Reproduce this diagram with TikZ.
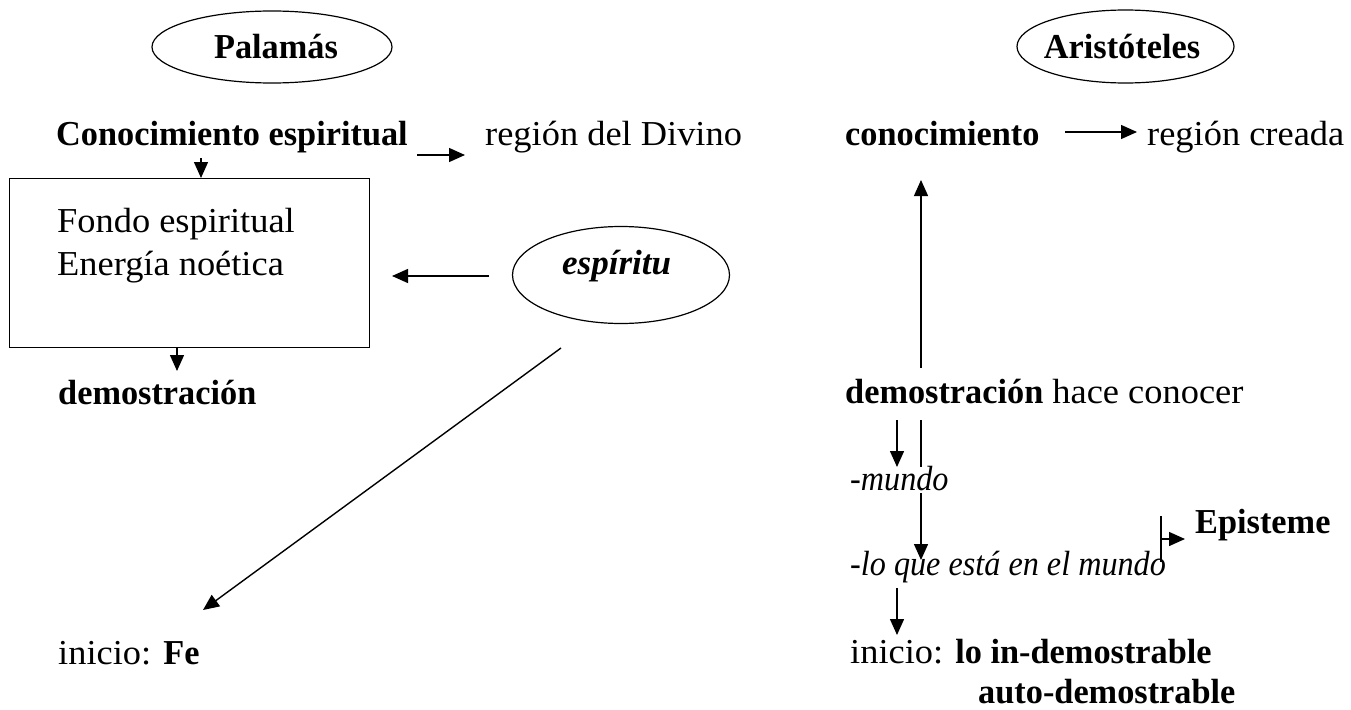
\documentclass[tikz,border=0pt]{standalone}
\usepackage{fontspec}
\setmainfont{Liberation Serif}[
  UprightFeatures={FakeStretch=1.04},
  BoldFeatures={FakeStretch=0.98},
  ItalicFeatures={FakeStretch=0.92},
  BoldItalicFeatures={FakeStretch=1.0}]
\usetikzlibrary{shapes.geometric,arrows.meta}
\begin{document}
\begin{tikzpicture}[x=1pt,y=-1pt,
  txt/.style={anchor=base west, inner sep=0pt, font=\fontsize{35}{42}\selectfont},
  ell/.style={draw, ellipse, line width=1.2pt, inner sep=0pt},
  arr/.style={line width=1.4pt, -{Triangle[length=16pt,width=14pt]}},
  ln/.style={line width=1.4pt}]
\useasboundingbox (0,0) rectangle (1351,709);

% ---------- Palamás side ----------
\node[ell, minimum width=240pt, minimum height=72pt] (pal) at (272,47) {};
\node[txt, anchor=base] (palt) at (276,59) {\textbf{Palamás}};

\node[txt] (ce) at (56,145) {\textbf{Conocimiento espiritual}};
\node[txt] (rd) at (485,145) {región del Divino};

\node[draw, line width=1.2pt, anchor=north west, minimum width=360pt, minimum height=169pt, inner sep=0pt] (box) at (9,178) {};
\node[txt] (fe1) at (57,232) {Fondo espiritual};
\node[txt] (fe2) at (57,275) {Energía noética};

\node[ell, minimum width=217pt, minimum height=97pt] (esp) at (621,275) {};
\node[txt] (espt) at (562,274) {\textbf{\textit{espíritu}}};

\node[txt] (dem) at (58,404) {\textbf{demostración}};
\node[txt] (fe) at (58,664) {inicio: \textbf{Fe}};

\coordinate (c1) at (201,158);
\draw[arr] (c1) -- (c1 |- box.north);
\coordinate (c2a) at (417,155);
\coordinate (c2b) at (465,155);
\draw[arr] (c2a) -- (c2b);
\coordinate (c3a) at (489,276);
\coordinate (c3b) at (392,276);
\draw[arr] (c3a) -- (c3b);
\coordinate (c4) at (177,371);
\draw[arr] (c4 |- box.south) -- (c4);
\coordinate (c5a) at (561,348);
\coordinate (c5b) at (203,610);
\draw[arr] (c5a) -- (c5b);

% ---------- Aristóteles side ----------
\node[ell, minimum width=217pt, minimum height=73pt] (ari) at (1125.5,46.5) {};
\node[txt, anchor=base] (arit) at (1122,59) {\textbf{Aristóteles}};

\node[txt] (con) at (845,145) {\textbf{conocimiento}};
\node[txt] (rc) at (1147,145) {región creada};
\coordinate (d1a) at (1065,132);
\coordinate (d1b) at (1137,132);
\draw[arr] (d1a) -- (d1b);

\node[txt] (dhc) at (845,403) {\textbf{demostración} hace conocer};
\coordinate (d2a) at (921,368);
\coordinate (d2b) at (921,180);
\draw[arr] (d2a) -- (d2b);

\coordinate (d3a) at (897,420);
\coordinate (d3b) at (897,467);
\draw[arr] (d3a) -- (d3b);
\coordinate (d4a) at (921,420);
\coordinate (d4b) at (921,467);
\draw[ln] (d4a) -- (d4b);

\node[txt] (mun) at (850,490) {\textit{-mundo}};
\coordinate (d5a) at (921,493);
\coordinate (d5b) at (921,560);
\draw[arr] (d5a) -- (d5b);

\node[txt] (epi) at (1195,533) {\textbf{Episteme}};
\coordinate (b1) at (1161,516);
\coordinate (b2) at (1161,562);
\draw[ln] (b1) -- (b2);
\coordinate (b3) at (1161,539);
\coordinate (b4) at (1185,539);
\draw[arr] (b3) -- (b4);

\node[txt] (lq) at (850,575) {\textit{-lo que está en el mundo}};
\coordinate (d6a) at (897,588);
\coordinate (d6b) at (897,635);
\draw[arr] (d6a) -- (d6b);

\node[txt] (ini) at (850,663) {inicio: \textbf{lo in-demostrable}};
\node[txt] (aut) at (978,703) {\textbf{auto-demostrable}};
\end{tikzpicture}
\end{document}
